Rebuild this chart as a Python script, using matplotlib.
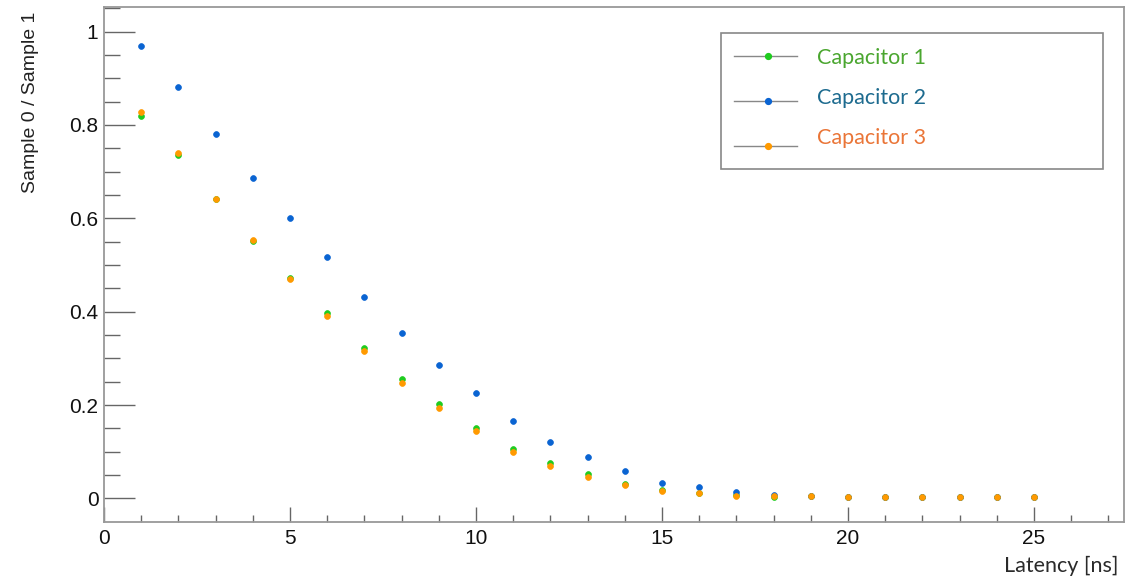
import matplotlib
matplotlib.use("Agg")
import matplotlib.pyplot as plt
from matplotlib.lines import Line2D
from matplotlib.patches import Rectangle
from matplotlib.ticker import MultipleLocator, FuncFormatter

plt.rcParams["font.family"] = ["Liberation Sans", "DejaVu Sans"]

# ---- data ----
latency = list(range(1, 26))
cap1 = [0.820, 0.735, 0.641, 0.552, 0.472, 0.397, 0.323, 0.255, 0.202, 0.152,
        0.106, 0.076, 0.053, 0.030, 0.018, 0.012, 0.007, 0.004, 0.005, 0.004,
        0.003, 0.004, 0.004, 0.004, 0.004]
cap2 = [0.969, 0.882, 0.781, 0.687, 0.600, 0.517, 0.431, 0.355, 0.286, 0.225,
        0.167, 0.122, 0.089, 0.059, 0.034, 0.025, 0.014, 0.008, 0.006, 0.004,
        0.003, 0.004, 0.004, 0.004, 0.004]
cap3 = [0.827, 0.740, 0.641, 0.554, 0.471, 0.391, 0.315, 0.247, 0.193, 0.145,
        0.099, 0.069, 0.047, 0.029, 0.016, 0.011, 0.006, 0.005, 0.005, 0.004,
        0.003, 0.004, 0.004, 0.004, 0.004]
labels = ["Capacitor 1", "Capacitor 2", "Capacitor 3"]
marker_colors = ["#1fcc1f", "#0a64d2", "#ff9a00"]
text_colors = ["#4aa62f", "#1d6b8f", "#ea7537"]

W, H = 1140, 577
fig = plt.figure(figsize=(W / 100, H / 100), dpi=100)
ax = fig.add_axes([104 / W, 1 - 521.7 / H, (1124 - 104) / W, (521.7 - 7.3) / H])

for y, c in zip([cap1, cap2, cap3], marker_colors):
    ax.plot(latency, y, linestyle="none", marker="o", ms=4.2, mfc=c, mec=c, mew=0.5)

ax.set_xlim(0, 27.42)
ax.set_ylim(-0.0497, 1.052)
ax.xaxis.set_major_locator(MultipleLocator(5))
ax.xaxis.set_minor_locator(MultipleLocator(1))
ax.yaxis.set_major_locator(MultipleLocator(0.2))
ax.yaxis.set_minor_locator(MultipleLocator(0.05))
ax.yaxis.set_major_formatter(FuncFormatter(lambda v, p: f"{v:g}"))

tick_col = "#666666"
ax.tick_params(axis="x", which="major", direction="in", length=10.5, width=1.0,
               color=tick_col, labelsize=15, pad=5.5, top=False, labelcolor="#111111")
ax.tick_params(axis="x", which="minor", direction="in", length=5.3, width=1.0,
               color=tick_col, top=False)
ax.tick_params(axis="y", which="major", direction="in", length=22.5, width=1.0,
               color=tick_col, labelsize=15, pad=4, right=False, labelcolor="#111111")
ax.tick_params(axis="y", which="minor", direction="in", length=11.3, width=1.0,
               color=tick_col, right=False)
for s in ax.spines.values():
    s.set_color("#999999")
    s.set_linewidth(1.3)

fig.text(31 / W, 1 - 11.7 / H, "Sample 0 / Sample 1", rotation=90, ha="center",
         va="top", fontsize=14, family="Liberation Sans", color="#222222")
fig.text(1118 / W, 1 - 566 / H, "Latency [ns]", ha="right", va="center",
         fontsize=15.5, family="Lato", color="#2a2a2a")

# ---- legend ----
fig.add_artist(Rectangle((720.7 / W, 1 - 168.7 / H), (1103.3 - 720.7) / W,
                         (168.7 - 33.3) / H, transform=fig.transFigure,
                         facecolor="white", edgecolor="#888888", lw=1.2))
line_y = [55.7, 100.7, 146.0]
text_y = [57.5, 98.0, 138.5]
for ly, ty, lab, mc, tc in zip(line_y, text_y, labels, marker_colors, text_colors):
    fig.add_artist(Line2D([734 / W, 797 / W], [1 - ly / H, 1 - ly / H],
                          transform=fig.transFigure, color="#888888", lw=1.0))
    fig.add_artist(Line2D([768 / W], [1 - ly / H], transform=fig.transFigure,
                          linestyle="none", marker="o", ms=4.2, mfc=mc, mec=mc))
    fig.text(816.7 / W, 1 - ty / H, lab, ha="left", va="center", fontsize=15.5,
             family="Lato", color=tc)

fig.savefig("out.png", dpi=100)
